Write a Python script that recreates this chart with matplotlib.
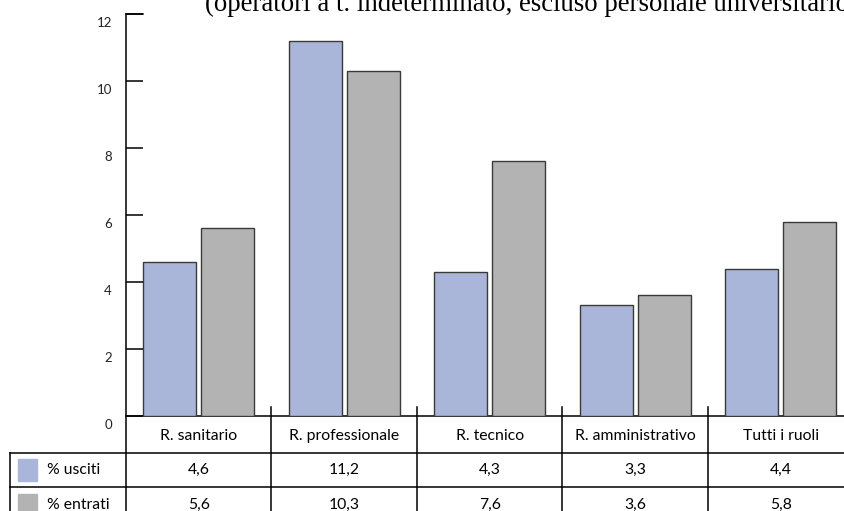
import matplotlib.pyplot as plt
import matplotlib.transforms as mtransforms

categorie = ["R. sanitario", "R. professionale", "R. tecnico", "R. amministrativo", "Tutti i ruoli"]
usciti = [4.6, 11.2, 4.3, 3.3, 4.4]
entrati = [5.6, 10.3, 7.6, 3.6, 5.8]
etichette_usciti = ["4,6", "11,2", "4,3", "3,3", "4,4"]
etichette_entrati = ["5,6", "10,3", "7,6", "3,6", "5,8"]
serie = ["% usciti", "% entrati"]
yticks = [0, 2, 4, 6, 8, 10, 12]

col_blu = "#a9b6d9"
col_grigio = "#b3b3b3"
font = "Lato"

W, H = 845, 511
fig = plt.figure(figsize=(W / 100, H / 100), dpi=100)

# geometria in pixel
x0, ytop, ybase = 126, 14, 416
col_w = 145.5
ax = fig.add_axes([x0 / W, (H - ybase) / H, (W - x0) / W, (ybase - ytop) / H])
ax.set_xlim(0, (W - x0) / col_w)
ax.set_ylim(0, 12)

pos = [i + 0.5 for i in range(len(categorie))]
ax.bar([p - 0.2 for p in pos], usciti, width=0.365, color=col_blu,
       edgecolor="#3a3a3a", linewidth=1.0)
ax.bar([p + 0.2 for p in pos], entrati, width=0.365, color=col_grigio,
       edgecolor="#3a3a3a", linewidth=1.0)

for s in ["top", "right", "bottom", "left"]:
    ax.spines[s].set_visible(False)
ax.set_xticks([])
ax.set_yticks(yticks)
ax.tick_params(axis="y", direction="in", length=12, width=1.1, labelleft=False)
ax.set_facecolor("none")

# etichette asse y spostate un po' sotto la tacca
off = mtransforms.ScaledTranslation(-0.14, -0.09, fig.dpi_scale_trans)
for v in yticks:
    ax.text(0, v, str(v), transform=ax.get_yaxis_transform() + off,
            ha="right", va="center", fontsize=9.5, family=font, color="#222222")

# tabella sotto al grafico, in coordinate pixel
ov = fig.add_axes([0, 0, 1, 1], zorder=-1)
ov.set_xlim(0, W)
ov.set_ylim(H, 0)
ov.axis("off")

lw = 1.1
r1, r2 = 453, 487
ov.plot([x0, x0], [ytop, H], color="black", lw=lw)
ov.plot([x0, x0 + 17], [ytop, ytop], color="black", lw=lw)
ov.plot([x0, W], [ybase, ybase], color="black", lw=lw)
for y in (r1, r2):
    ov.plot([10, W], [y, y], color="black", lw=lw)
ov.plot([10, 10], [r1, H], color="black", lw=lw)
for i in range(1, len(categorie)):
    xc = x0 + i * col_w
    ov.plot([xc, xc], [407, H], color="black", lw=lw)

fs = 11.3
for i, cat in enumerate(categorie):
    xc = x0 + (i + 0.5) * col_w
    ov.text(xc, 436, cat, ha="center", va="center", fontsize=fs, family=font)
    ov.text(xc, 470, etichette_usciti[i], ha="center", va="center", fontsize=fs, family=font)
    ov.text(xc, 505, etichette_entrati[i], ha="center", va="center", fontsize=fs, family=font)

for y, nome, col in ((470, serie[0], col_blu), (505, serie[1], col_grigio)):
    ov.add_patch(plt.Rectangle((18, y - 11), 19, 22, color=col))
    ov.text(47, y, nome, ha="left", va="center", fontsize=fs, family=font)

ov.text(205, 11, "(operatori a t. indeterminato, escluso personale universitario)",
        ha="left", va="baseline", fontsize=19.3, family="Liberation Serif")

fig.savefig("out.png", dpi=100)
